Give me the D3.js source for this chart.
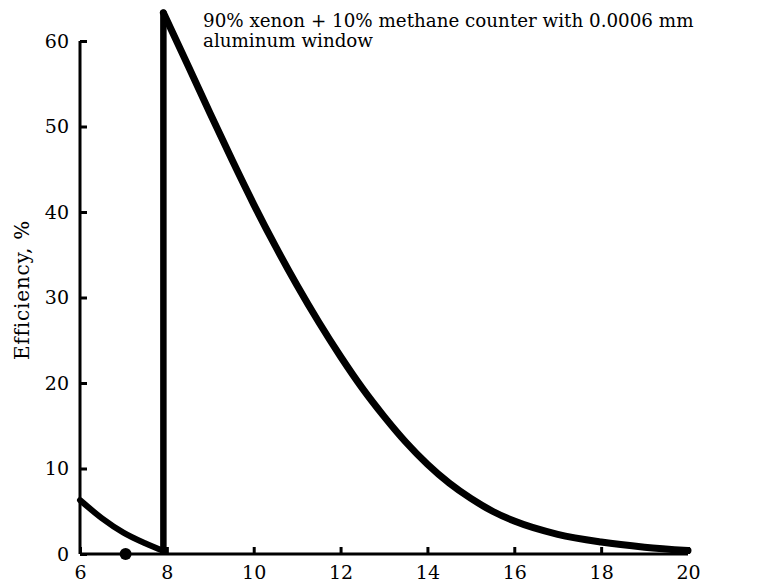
<!DOCTYPE html>
<html>
<head>
<meta charset="utf-8">
<script src="https://cdn.jsdelivr.net/npm/d3@7"></script>
<style>
  body { margin: 0; background: #fff; }
  svg { display: block; }
  .axis path, .axis line { stroke: #000; stroke-width: 3; }
  .axis text { font-family: 'DejaVu Serif', serif; font-size: 19px; fill: #000; }
  .curve { fill: none; stroke: #000; stroke-linecap: round; stroke-linejoin: round; }
</style>
</head>
<body>
<svg width="768" height="582"></svg>
<script>
// x ticks (energy) and y ticks (efficiency %)
const xTicks = [6, 8, 10, 12, 14, 16, 18, 20];
const yTicks = [0, 10, 20, 30, 40, 50, 60];

// low side of the edge
const lowX = [6, 6.5, 7, 7.5, 7.92];
const lowY = [6.3, 4.2, 2.5, 1.25, 0.35];

// jump at the edge
const edgeX = [7.92, 7.92];
const edgeY = [0.3, 63.3];

// high side of the edge
const highX = [7.92, 8.5, 9, 9.5, 10, 10.5, 11, 11.5, 12, 12.5, 13, 13.5, 14, 14.5, 15, 15.5, 16, 17, 18, 19, 20];
const highY = [63.3, 57, 51.5, 46.1, 40.9, 36, 31.4, 27.1, 23.1, 19.4, 16.1, 13.1, 10.5, 8.3, 6.5, 5, 3.85, 2.3, 1.4, 0.8, 0.4];

// marked point on the axis
const dotX = [7.05];
const dotY = [0];

const title = ['90% xenon + 10% methane counter with 0.0006 mm', 'aluminum window'];
const yLabel = 'Efficiency, %';

let svg = d3.select('svg');

let x = d3.scaleLinear().domain([6, 20]).range([80, 688]);
let y = d3.scaleLinear().domain([0, 60]).range([554, 41]);

// Axes
let xAxis = d3.axisBottom(x).tickValues(xTicks).tickSize(-7).tickSizeOuter(0).tickPadding(12).tickFormat(d3.format('d'));
let yAxis = d3.axisLeft(y).tickValues(yTicks).tickSize(-7).tickSizeOuter(0).tickPadding(11).tickFormat(d3.format('d'));

svg.append('g')
  .attr('class', 'axis')
  .attr('transform', 'translate(0,' + y(0) + ')')
  .call(xAxis)
  .call(g => g.select('.domain').attr('d', 'M' + x(6) + ',0H' + x(20)));

svg.append('g')
  .attr('class', 'axis')
  .attr('transform', 'translate(' + x(6) + ',0)')
  .call(yAxis)
  .call(g => g.select('.domain').attr('d', 'M0,' + y(0) + 'V' + y(60)));

// Curves
let zip = (xs, ys) => xs.map((d, i) => [d, ys[i]]);
let line = d3.line().x(d => x(d[0])).y(d => y(d[1]));

svg.append('path')
  .attr('class', 'curve')
  .attr('stroke-width', 6)
  .attr('d', line.curve(d3.curveMonotoneX)(zip(lowX, lowY)));

svg.append('path')
  .attr('class', 'curve')
  .attr('stroke-width', 6.5)
  .attr('d', line.curve(d3.curveLinear)(zip(edgeX, edgeY)));

svg.append('path')
  .attr('class', 'curve')
  .attr('stroke-width', 7)
  .attr('d', line.curve(d3.curveMonotoneX)(zip(highX, highY)));

svg.selectAll('.dot')
  .data(zip(dotX, dotY))
  .enter()
  .append('circle')
    .attr('class', 'dot')
    .attr('cx', d => x(d[0]))
    .attr('cy', d => y(d[1]))
    .attr('r', 6)
    .attr('fill', '#000');

// Title
svg.append('text')
  .attr('x', 203)
  .attr('y', 27)
  .attr('font-family', 'DejaVu Serif, serif')
  .attr('font-size', 18.3)
  .selectAll('tspan')
  .data(title)
  .enter()
  .append('tspan')
    .attr('x', 203)
    .attr('dy', (d, i) => i ? 20 : 0)
    .text(d => d);

// Y label
svg.append('text')
  .attr('transform', 'translate(29,290) rotate(-90)')
  .attr('text-anchor', 'middle')
  .attr('font-family', 'DejaVu Serif, serif')
  .attr('font-size', 20)
  .attr('letter-spacing', 0.8)
  .text(yLabel);
</script>
</body>
</html>
